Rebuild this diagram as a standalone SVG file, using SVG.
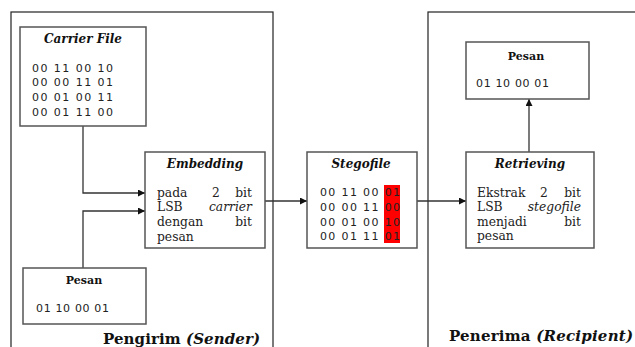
<svg xmlns="http://www.w3.org/2000/svg" width="635" height="347" viewBox="0 0 635 347">
<style>
.frame{fill:none;stroke:#222;stroke-width:1.2}
.box{fill:#fff;stroke:#555;stroke-width:1.5}
.title{font-family:"DejaVu Serif",serif;font-weight:bold;font-style:italic;font-size:12px;fill:#111;text-anchor:middle}
.ptitle{font-family:"DejaVu Serif",serif;font-weight:bold;font-size:11px;fill:#111;text-anchor:middle}
.data{font-family:"DejaVu Sans",sans-serif;font-size:11px;fill:#222}
.body{font-family:"DejaVu Serif",serif;font-size:12.3px;fill:#222}
.it{font-style:italic}
.end{text-anchor:end}
.mid{text-anchor:middle}
.big{font-family:"DejaVu Serif",serif;font-weight:bold;font-size:15px;fill:#111}
.conn{fill:none;stroke:#333;stroke-width:1.3}
</style>
<defs>
<marker id="arr" viewBox="0 0 10 10" refX="10" refY="5" markerWidth="8" markerHeight="7" markerUnits="userSpaceOnUse" orient="auto">
<path d="M0,0 L10,5 L0,10 z" fill="#111"/>
</marker>
</defs>
<rect width="635" height="347" fill="#fff"/>
<g id="sender">
<rect class="frame" x="11" y="12" width="262" height="345"/>
<text class="big" x="103" y="344" textLength="157">Pengirim <tspan class="it">(Sender)</tspan></text>
</g>
<g id="recipient">
<rect class="frame" x="428" y="12" width="230" height="345"/>
<text class="big" x="449" y="341" textLength="184">Penerima <tspan class="it">(Recipient)</tspan></text>
</g>
<g id="connectors">
<polyline class="conn" points="83,126 83,193 145,193" marker-end="url(#arr)"/>
<polyline class="conn" points="83,268 83,211 145,211" marker-end="url(#arr)"/>
<line class="conn" x1="264" y1="201" x2="307" y2="201" marker-end="url(#arr)"/>
<line class="conn" x1="417" y1="201" x2="466" y2="201" marker-end="url(#arr)"/>
<line class="conn" x1="529" y1="152" x2="529" y2="99" marker-end="url(#arr)"/>
</g>
<g id="carrier-file">
<rect class="box" x="20" y="27" width="126" height="99"/>
<text class="title" x="83" y="43">Carrier File</text>
<text class="data" x="32" y="72" textLength="81">00 11 00 10</text>
<text class="data" x="32" y="86" textLength="81">00 00 11 01</text>
<text class="data" x="32" y="101" textLength="81">00 01 00 11</text>
<text class="data" x="32" y="116" textLength="81">00 01 11 00</text>
</g>
<g id="pesan-sender">
<rect class="box" x="23" y="268" width="123" height="56"/>
<text class="ptitle" x="84" y="284">Pesan</text>
<text class="data" x="36" y="312" textLength="73">01 10 00 01</text>
</g>
<g id="embedding">
<rect class="box" x="145" y="152" width="120" height="96"/>
<text class="title" x="205" y="168">Embedding</text>
<text class="body" x="157" y="197">pada</text><text class="body mid" x="216" y="197">2</text><text class="body end" x="252" y="197">bit</text>
<text class="body" x="157" y="211">LSB</text><text class="body it end" x="252" y="211">carrier</text>
<text class="body" x="157" y="226">dengan</text><text class="body end" x="252" y="226">bit</text>
<text class="body" x="157" y="241">pesan</text>
</g>
<g id="stegofile">
<rect class="box" x="307" y="152" width="110" height="96"/>
<rect x="384" y="185" width="16" height="58" fill="#f00"/>
<text class="title" x="361" y="168">Stegofile</text>
<text class="data" x="320" y="196" textLength="80">00 11 00 01</text>
<text class="data" x="320" y="211" textLength="80">00 00 11 00</text>
<text class="data" x="320" y="226" textLength="80">00 01 00 10</text>
<text class="data" x="320" y="240" textLength="80">00 01 11 01</text>
</g>
<g id="retrieving">
<rect class="box" x="466" y="152" width="128" height="96"/>
<text class="title" x="530" y="168">Retrieving</text>
<text class="body" x="477" y="197">Ekstrak</text><text class="body mid" x="544" y="197">2</text><text class="body end" x="581" y="197">bit</text>
<text class="body" x="477" y="211">LSB</text><text class="body it end" x="581" y="211">stegofile</text>
<text class="body" x="477" y="226">menjadi</text><text class="body end" x="581" y="226">bit</text>
<text class="body" x="477" y="240">pesan</text>
</g>
<g id="pesan-recipient">
<rect class="box" x="466" y="42" width="123" height="57"/>
<text class="ptitle" x="526" y="60">Pesan</text>
<text class="data" x="476" y="87" textLength="73">01 10 00 01</text>
</g>
</svg>
